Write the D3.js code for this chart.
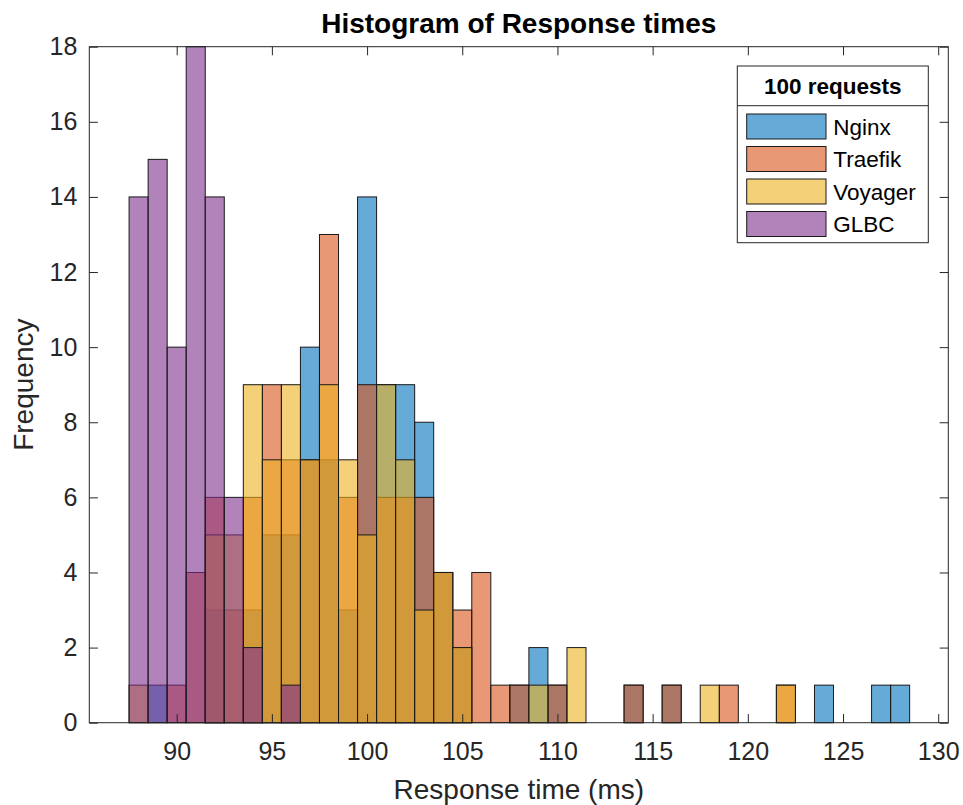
<!DOCTYPE html>
<html>
<head>
<meta charset="utf-8">
<script src="https://cdn.jsdelivr.net/npm/d3@7"></script>
<style>
	body { margin: 0; background: white; }
	#outer { width: 963px; height: 805px; }
</style>
</head>
<body>
<div id="outer"></div>
<script>
////////// Data //////////
const seriesNames = ['Nginx', 'Traefik', 'Voyager', 'GLBC'];
const legendTitle = '100 requests';
// bins are 1 ms wide, first bin starts at 87.5 (centres 88 .. 128)
const binStart = 87.5;
const binWidth = 1;
const nginxCounts   = [0,1,0,0,3,0,3,5,5,10, 7,3,14,9,9,8,4,2,0,0, 1,2,1,0,0,0,1,0,1,0, 0,0,0,0,0,0,1,0,0,1, 1];
const traefikCounts = [0,0,1,4,6,3,6,9,7,7, 13,6,9,6,6,6,4,3,4,1, 1,0,1,0,0,0,1,0,1,0, 0,1,0,0,1,0,0,0,0,0, 0];
const voyagerCounts = [1,0,0,0,5,5,9,7,9,7, 9,7,5,9,7,3,4,2,0,0, 0,1,0,2,0,0,0,0,0,0, 1,0,0,0,1,0,0,0,0,0, 0];
const glbcCounts    = [14,15,10,18,14,6,2,0,1,0, 0,0,0,0,0,0,0,0,0,0, 0,0,0,0,0,0,0,0,0,0, 0,0,0,0,0,0,0,0,0,0, 0];
const xTickValues = [90, 95, 100, 105, 110, 115, 120, 125, 130];
const yTickValues = [0, 2, 4, 6, 8, 10, 12, 14, 16, 18];


function drawHistogram () {
	const widget = {};

	////////// Hard Coded Defs //////////
	const colors = ['#0072BD', '#D95319', '#EDB120', '#7E2F8E'];
	const axisColor = '#262626';
	const font = 'Liberation Sans, Arial, Helvetica, sans-serif';

	////////////////////////////////////////////////////////////////
		// Setup Definitions
	////////////////////////////////////////////////////////////////
	const setupDefinitions = () => {
		const data = {};
		data.width = 963;
		data.height = 805;
		data.plot = {left: 89.3, right: 948.3, top: 46.7, bottom: 722.7};
		data.tickLength = 8.6;
		data.faceAlpha = 0.6;

		data.series = [nginxCounts, traefikCounts, voyagerCounts, glbcCounts].map((counts, i) => ({
			name: seriesNames[i],
			color: colors[i],
			bins: counts.map((c, j) => ({x0: binStart + j * binWidth, x1: binStart + (j + 1) * binWidth, count: c}))
		}));

		data.x = d3.scaleLinear().domain([85.41, 130.53]).range([data.plot.left, data.plot.right]);
		data.y = d3.scaleLinear().domain([0, 18]).range([data.plot.bottom, data.plot.top]);
		return data;
	};

	////////////////////////////////////////////////////////////////
		// RenderWidget Func
	////////////////////////////////////////////////////////////////
	const renderWidget = data => {
		const svg = widget.svg
			.attr('width', data.width)
			.attr('height', data.height)
			.style('font-family', font);

		svg.append('rect')
			.attr('width', data.width)
			.attr('height', data.height)
			.attr('fill', 'white');

		// ********************************************* BARS ******************************************************* //
		const barsGroup = svg.append('g').attr('class', 'barsGroup');
		data.series.forEach(s => {
			barsGroup.append('g')
				.attr('class', 'series')
				.selectAll('rect')
				.data(s.bins.filter(b => b.count > 0))
				.join('rect')
					.attr('x', d => data.x(d.x0))
					.attr('width', d => data.x(d.x1) - data.x(d.x0))
					.attr('y', d => data.y(d.count))
					.attr('height', d => data.y(0) - data.y(d.count))
					.attr('fill', s.color)
					.attr('fill-opacity', data.faceAlpha)
					.attr('stroke', '#1a1a1a')
					.attr('stroke-width', 1);
		});

		// ********************************************* AXES ******************************************************* //
		const styleAxis = (g, fontSize) => {
			g.select('.domain').remove();
			g.selectAll('line').attr('stroke', axisColor).attr('stroke-width', 1);
			g.selectAll('text').attr('fill', axisColor).style('font-size', fontSize).style('font-family', font);
		};

		svg.append('g')
			.attr('transform', `translate(0, ${data.plot.bottom})`)
			.call(d3.axisBottom(data.x).tickValues(xTickValues).tickSizeInner(-data.tickLength).tickSizeOuter(0).tickPadding(20))
			.call(g => styleAxis(g, '25px'));

		svg.append('g')
			.attr('transform', `translate(0, ${data.plot.top})`)
			.call(d3.axisTop(data.x).tickValues(xTickValues).tickSizeInner(-data.tickLength).tickSizeOuter(0).tickFormat(''))
			.call(g => styleAxis(g, '25px'));

		svg.append('g')
			.attr('transform', `translate(${data.plot.left}, 0)`)
			.call(d3.axisLeft(data.y).tickValues(yTickValues).tickSizeInner(-data.tickLength).tickSizeOuter(0).tickPadding(12))
			.call(g => styleAxis(g, '25px'));

		svg.append('g')
			.attr('transform', `translate(${data.plot.right}, 0)`)
			.call(d3.axisRight(data.y).tickValues(yTickValues).tickSizeInner(-data.tickLength).tickSizeOuter(0).tickFormat(''))
			.call(g => styleAxis(g, '25px'));

		// box
		svg.append('rect')
			.attr('x', data.plot.left)
			.attr('y', data.plot.top)
			.attr('width', data.plot.right - data.plot.left)
			.attr('height', data.plot.bottom - data.plot.top)
			.attr('fill', 'none')
			.attr('stroke', axisColor)
			.attr('stroke-width', 1);

		// ********************************************* LABELS ******************************************************* //
		svg.append('text')
			.attr('x', (data.plot.left + data.plot.right) / 2)
			.attr('y', 33)
			.attr('text-anchor', 'middle')
			.style('font-size', '28px')
			.style('font-weight', 'bold')
			.attr('fill', 'black')
			.text('Histogram of Response times');

		svg.append('text')
			.attr('x', (data.plot.left + data.plot.right) / 2)
			.attr('y', 799)
			.attr('text-anchor', 'middle')
			.style('font-size', '28px')
			.attr('fill', axisColor)
			.text('Response time (ms)');

		svg.append('text')
			.attr('transform', `translate(33, ${(data.plot.top + data.plot.bottom) / 2}) rotate(-90)`)
			.attr('text-anchor', 'middle')
			.style('font-size', '28px')
			.attr('fill', axisColor)
			.text('Frequency');

		// ********************************************* LEGEND ******************************************************* //
		const legend = svg.append('g').attr('class', 'legend').attr('transform', 'translate(737.3, 66)');
		const legendW = 191, legendH = 176.7;
		legend.append('rect')
			.attr('width', legendW)
			.attr('height', legendH)
			.attr('fill', 'white')
			.attr('stroke', axisColor)
			.attr('stroke-width', 1);
		legend.append('line')
			.attr('x1', 0).attr('x2', legendW)
			.attr('y1', 39.7).attr('y2', 39.7)
			.attr('stroke', axisColor)
			.attr('stroke-width', 1);
		legend.append('text')
			.attr('x', legendW / 2)
			.attr('y', 28)
			.attr('text-anchor', 'middle')
			.style('font-size', '22.5px')
			.style('font-weight', 'bold')
			.attr('fill', 'black')
			.text(legendTitle);

		const entries = legend.selectAll('.entry')
			.data(data.series)
			.join('g')
				.attr('class', 'entry')
				.attr('transform', (d, i) => `translate(0, ${48 + i * 32.5})`);
		entries.append('rect')
			.attr('x', 9.4)
			.attr('width', 79.3)
			.attr('height', 25)
			.attr('fill', d => d.color)
			.attr('fill-opacity', data.faceAlpha)
			.attr('stroke', '#1a1a1a')
			.attr('stroke-width', 1);
		entries.append('text')
			.attr('x', 96)
			.attr('y', 20.5)
			.style('font-size', '22.5px')
			.attr('fill', 'black')
			.text(d => d.name);
	};

	////////////////////////////////////////////////////////////////
		// Initialize Widget
	////////////////////////////////////////////////////////////////
	widget.outerDiv = d3.select('#outer').style('overflow', 'hidden');
	widget.svg = widget.outerDiv.append('svg');
	renderWidget(setupDefinitions());
}

drawHistogram();
</script>
</body>
</html>
